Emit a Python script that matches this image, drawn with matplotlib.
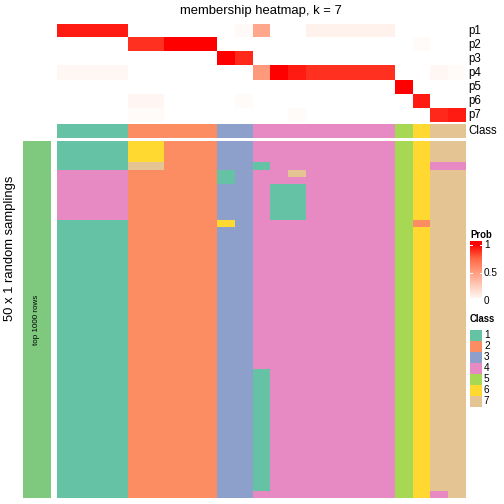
import matplotlib.pyplot as plt
import numpy as np
from matplotlib.colors import LinearSegmentedColormap, ListedColormap
from matplotlib.patches import Rectangle

plt.rcParams['font.family'] = ['Liberation Sans', 'DejaVu Sans']

# classes and colours
class_names = ['1', '2', '3', '4', '5', '6', '7']
class_colors = ['#66C2A5', '#FC8D62', '#8DA0CB', '#E78AC3', '#A6D854', '#FFD92F', '#E5C494']
prob_names = ['p1', 'p2', 'p3', 'p4', 'p5', 'p6', 'p7']

# consensus class of each of the 23 columns
col_class = [1, 1, 1, 1, 2, 2, 2, 2, 2, 3, 3, 4, 4, 4, 4, 4, 4, 4, 4, 5, 6, 7, 7]

# membership probabilities
p1 = [.93, .93, .93, .93, 0, 0, 0, 0, 0, 0, .03, .45, 0, 0, .07, .07, .07, .07, .07, 0, 0, 0, 0]
p2 = [0, 0, 0, 0, .88, .88, 1, 1, 1, 0, 0, 0, 0, 0, 0, 0, 0, 0, 0, 0, .02, 0, 0]
p3 = [0, 0, 0, 0, 0, 0, 0, 0, 0, 1, .9, 0, 0, 0, 0, 0, 0, 0, 0, 0, 0, 0, 0]
p4 = [.04, .04, .04, .04, 0, 0, 0, 0, 0, 0, 0, .52, 1, .93, .88, .88, .88, .88, .88, 0, 0, .04, .02]
p5 = [0, 0, 0, 0, 0, 0, 0, 0, 0, 0, 0, 0, 0, 0, 0, 0, 0, 0, 0, 1, 0, 0, 0]
p6 = [0, 0, 0, 0, .05, .05, 0, 0, 0, 0, .02, 0, 0, 0, 0, 0, 0, 0, 0, 0, .93, 0, 0]
p7 = [0, 0, 0, 0, .02, .02, 0, 0, 0, 0, 0, 0, 0, .02, 0, 0, 0, 0, 0, 0, 0, .9, .93]

# 50 random samplings: differences from the consensus classes
# (first row, last row, first col, last col, class)
n_samplings = 50
overrides = [
    (0, 2, 4, 5, 6),
    (3, 3, 4, 5, 7),
    (4, 10, 0, 3, 4),
    (4, 5, 9, 9, 1),
    (11, 11, 9, 9, 6),
    (3, 3, 11, 11, 1),
    (32, 48, 11, 11, 1),
    (4, 4, 13, 13, 7),
    (6, 10, 12, 13, 1),
    (11, 11, 20, 20, 2),
    (3, 3, 21, 22, 4),
    (49, 49, 21, 21, 4),
]

samples = np.tile(np.array(col_class), (n_samplings, 1))
for r0, r1, c0, c1, k in overrides:
    samples[r0:r1 + 1, c0:c1 + 1] = k

prob = np.array([p1, p2, p3, p4, p5, p6, p7])

# white -> red ramp (LAB-like)
prob_cmap = LinearSegmentedColormap.from_list(
    'prob', [(0, '#FFFFFF'), (.25, '#FFCFBE'), (.5, '#FF9E81'), (.75, '#FF6846'), (1, '#FF0000')])
class_cmap = ListedColormap(class_colors)

W = H = 504
fig = plt.figure(figsize=(7, 7), dpi=72)


def px_axes(x0, y0, x1, y1):
    ax = fig.add_axes([x0 / W, 1 - y1 / H, (x1 - x0) / W, (y1 - y0) / H])
    ax.set_axis_off()
    return ax


def ftext(x, y, s, **kw):
    fig.text(x / W, 1 - y / H, s, **kw)


x_left, x_right = 56.7, 465

ax_p = px_axes(x_left, 24, x_right, 122.3)
ax_p.imshow(prob, cmap=prob_cmap, vmin=0, vmax=1, aspect='auto', interpolation='nearest')

ax_c = px_axes(x_left, 123.8, x_right, 137.8)
ax_c.imshow(np.array([col_class]), cmap=class_cmap, vmin=0.5, vmax=7.5, aspect='auto',
            interpolation='nearest')

ax_s = px_axes(x_left, 141, x_right, 498)
ax_s.imshow(samples, cmap=class_cmap, vmin=0.5, vmax=7.5, aspect='auto', interpolation='nearest')

ax_g = px_axes(22.7, 141, 51, 498)
ax_g.add_patch(Rectangle((0, 0), 1, 1, color='#7FC97F'))
ax_g.set_xlim(0, 1)
ax_g.set_ylim(0, 1)
ax_g.text(0.5, 0.5, 'top 1000 rows', rotation=90, ha='center', va='center', fontsize=8)

# labels
ftext(261, 11, 'membership heatmap, k = 7', ha='center', va='center', fontsize=13)
row_h = (122.3 - 24) / 7
for i, name in enumerate(prob_names):
    ftext(468, 24 + row_h * (i + 0.5), name, ha='left', va='center', fontsize=11.5)
ftext(468, 131, 'Class', ha='left', va='center', fontsize=11.5)
ftext(10, 248, '50 x 1 random samplings', rotation=90, ha='center', va='center', fontsize=13)

# probability colour bar legend
ftext(470, 235, 'Prob', ha='left', va='center', fontsize=9.5, fontweight='bold')
ax_cb = px_axes(470, 240.7, 481.7, 298.3)
v_top = (301 - 240.7) / 56
v_bot = (301 - 298.3) / 56
grad = np.clip(np.linspace(v_bot, v_top, 200), 0, 1).reshape(-1, 1)
ax_cb.imshow(grad, cmap=prob_cmap, vmin=0, vmax=1, aspect='auto', origin='lower',
             extent=[0, 1, v_bot, v_top])
ax_cb.set_xlim(0, 1)
ax_cb.set_ylim(v_bot, v_top)
for v in [1, 0.5]:
    ax_cb.plot([0, 0.18], [v, v], color='white', lw=1)
    ax_cb.plot([0.82, 1], [v, v], color='white', lw=1)
for v, lab in [(1, '1'), (0.5, '0.5'), (0, '0')]:
    ftext(484, 301 - 56 * v, lab, ha='left', va='center', fontsize=10)

# class legend
ftext(470, 319, 'Class', ha='left', va='center', fontsize=9.5, fontweight='bold')
ax_l = px_axes(470, 329.3, 481.7, 406.7)
ax_l.set_xlim(0, 1)
ax_l.set_ylim(len(class_names), 0)
step = 77.4 / 7
for i, (name, col) in enumerate(zip(class_names, class_colors)):
    ax_l.add_patch(Rectangle((0, i + 0.04), 1, 0.92, color=col))
    ftext(484, 329.3 + step * (i + 0.5), name, ha='left', va='center', fontsize=10)

fig.savefig('out.png', dpi=72)
